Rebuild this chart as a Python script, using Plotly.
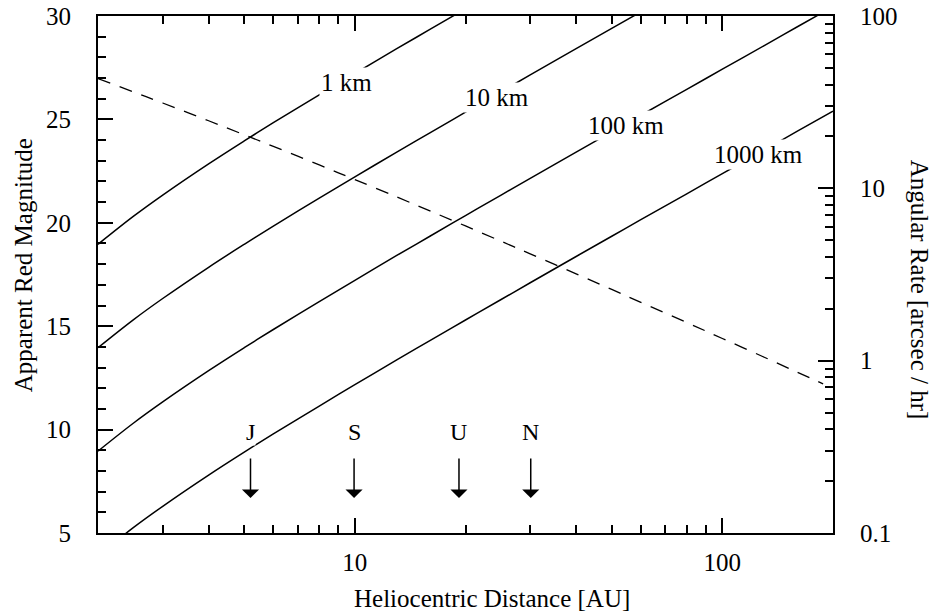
import numpy as np
import plotly.graph_objects as go

# Heliocentric distances [AU] at which the curves are sampled
distance_au = [2, 2.5, 3, 4, 5, 6, 8, 10, 13, 16, 20, 25, 30, 40, 50, 60, 80, 100, 130, 160, 200]

# Apparent red magnitude for bodies of a given diameter
mag_1km = [18.96, 20.32, 21.34, 22.85, 23.96, 24.84, 26.19, 27.22, 28.42, 29.35, 30.35]
mag_10km = [13.96, 15.32, 16.34, 17.85, 18.96, 19.84, 21.19, 22.22, 23.42, 24.35, 25.35,
            26.34, 27.15, 28.42, 29.40, 30.20]
mag_100km = [8.96, 10.32, 11.34, 12.85, 13.96, 14.84, 16.19, 17.22, 18.42, 19.35, 20.35,
             21.34, 22.15, 23.42, 24.40, 25.20, 26.45, 27.43, 28.57, 29.48, 30.45]
mag_1000km = [3.90, 5.27, 6.29, 7.80, 8.91, 9.79, 11.14, 12.17, 13.37, 14.30, 15.30,
              16.29, 17.10, 18.37, 19.35, 20.15, 21.40, 22.38, 23.52, 24.43, 25.40]

# Angular rate at opposition [arcsec / hr]
rate_au = distance_au[:-1] + [188]
rate_arcsec_hr = [43.35, 36.26, 31.27, 24.67, 20.45, 17.52, 13.67, 11.24, 8.91, 7.40, 6.05,
                  4.93, 4.17, 3.19, 2.59, 2.18, 1.664, 1.345, 1.047, 0.857, 0.734]

# Curve labels: text, distance, magnitude
curve_labels = ["1 km", "10 km", "100 km", "1000 km"]
curve_label_au = [9.5, 24.4, 54.6, 125.7]
curve_label_mag = [26.8, 26.05, 24.7, 23.3]

# Planet markers
planet_names = ["J", "S", "U", "N"]
planet_au = [5.2, 9.95, 19.2, 30.1]
planet_label_mag = 9.9
planet_arrow_tip_mag = 6.69

# Axis ticks
x_major = [10, 100]
x_minor = [3, 4, 5, 6, 7, 8, 9, 20, 30, 40, 50, 60, 70, 80, 90]
y_major = [5, 10, 15, 20, 25, 30]
y_minor = [v for v in range(6, 30) if v % 5 != 0]
y2_major = [0.1, 1, 10, 100]
y2_minor = [0.2, 0.3, 0.4, 0.5, 0.6, 0.7, 0.8, 0.9,
            2, 3, 4, 5, 6, 7, 8, 9, 20, 30, 40, 50, 60, 70, 80, 90]

FONT = "Liberation Serif"
LINE = dict(color="black", width=1.5)

fig = go.Figure()
for mags in (mag_1km, mag_10km, mag_100km, mag_1000km):
    fig.add_trace(go.Scatter(x=distance_au[:len(mags)], y=mags, mode="lines",
                             line=dict(**LINE, shape="spline"), showlegend=False,
                             hoverinfo="skip"))

fig.add_trace(go.Scatter(x=rate_au, y=rate_arcsec_hr, mode="lines", yaxis="y2",
                         line=dict(color="black", width=1.3, dash="13px,10px", shape="spline"),
                         showlegend=False, hoverinfo="skip"))

annotations = []
for text, r, m in zip(curve_labels, curve_label_au, curve_label_mag):
    annotations.append(dict(x=np.log10(r), y=m, xref="x", yref="y", text=text,
                            showarrow=False, bgcolor="white", borderpad=1,
                            font=dict(family=FONT, size=25, color="black")))

for name, r in zip(planet_names, planet_au):
    annotations.append(dict(x=np.log10(r), y=planet_label_mag, xref="x", yref="y", text=name,
                            showarrow=False, bgcolor="white", borderpad=0,
                            font=dict(family=FONT, size=24, color="black")))
    annotations.append(dict(x=np.log10(r), y=planet_arrow_tip_mag, xref="x", yref="y",
                            text="", showarrow=True, ax=0, ay=-41, arrowhead=1,
                            arrowsize=1.9, arrowwidth=1.5, arrowcolor="black", standoff=0))

annotations += [
    dict(x=0.536, y=-0.127, xref="paper", yref="paper", text="Heliocentric Distance [AU]",
         showarrow=False, xanchor="center", yanchor="middle",
         font=dict(family=FONT, size=25, color="black")),
    dict(x=-0.102, y=0.518, xref="paper", yref="paper", text="Apparent Red Magnitude",
         textangle=-90, showarrow=False, xanchor="center", yanchor="middle",
         font=dict(family=FONT, size=25, color="black")),
    dict(x=1.118, y=0.471, xref="paper", yref="paper", text="Angular Rate [arcsec / hr]",
         textangle=90, showarrow=False, xanchor="center", yanchor="middle",
         font=dict(family=FONT, size=25, color="black")),
]

tickfont = dict(family=FONT, size=25, color="black")

fig.update_layout(
    width=939, height=612,
    margin=dict(l=98, r=106, t=16, b=79, autoexpand=False),
    paper_bgcolor="white", plot_bgcolor="white",
    showlegend=False,
    annotations=annotations,
    xaxis=dict(type="log", range=[np.log10(2), np.log10(200)], automargin=False,
               tickvals=x_major, ticktext=[str(v) for v in x_major],
               ticks="inside", ticklen=15, tickwidth=1.5, tickcolor="black",
               minor=dict(tickvals=x_minor, ticks="inside", ticklen=8, tickwidth=1.5,
                          tickcolor="black", showgrid=False),
               showline=True, linewidth=2, linecolor="black", mirror="ticks",
               showgrid=False, zeroline=False, tickfont=tickfont, ticklabelstandoff=6),
    yaxis=dict(range=[5, 30], automargin=False,
               tickvals=y_major, ticktext=[str(v) for v in y_major],
               ticks="inside", ticklen=15, tickwidth=1.5, tickcolor="black",
               minor=dict(tickvals=y_minor, ticks="inside", ticklen=8, tickwidth=1.5,
                          tickcolor="black", showgrid=False),
               showline=True, linewidth=2, linecolor="black",
               showgrid=False, zeroline=False, tickfont=tickfont, ticklabelstandoff=20),
    yaxis2=dict(type="log", range=[-1, 2], overlaying="y", side="right", anchor="x",
                automargin=False,
                tickvals=y2_major, ticktext=["0.1", "1", "10", "100"],
                ticks="inside", ticklen=15, tickwidth=1.5, tickcolor="black",
                minor=dict(tickvals=y2_minor, ticks="inside", ticklen=8, tickwidth=1.5,
                           tickcolor="black", showgrid=False),
                showline=True, linewidth=2, linecolor="black",
                showgrid=False, zeroline=False, tickfont=tickfont, ticklabelstandoff=20),
)

fig.write_html("out.html")
